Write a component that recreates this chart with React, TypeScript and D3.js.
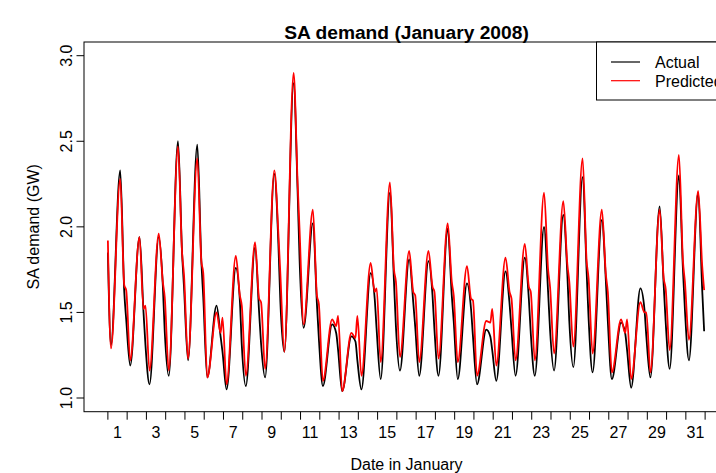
import React, { useRef, useEffect } from "react";
import * as d3 from "d3";

// Day numbers shown on the x axis (labels sit between the day ticks)
const days = d3.range(1, 32);
const dayTicks = d3.range(1, 33);
const yTicks = [1.0, 1.5, 2.0, 2.5, 3.0];

// Readings per day (GW): overnight trough, afternoon peak, evening shoulder, late-night jag
const actualStart = 1.85;
const actualLow = [1.31, 1.19, 1.08, 1.13, 1.22, 1.12, 1.05, 1.07, 1.12, 1.27, 1.41, 1.07, 1.04, 1.05, 1.11, 1.16, 1.13, 1.13, 1.11, 1.08, 1.1, 1.13, 1.13, 1.16, 1.18, 1.15, 1.11, 1.06, 1.12, 1.17, 1.22];
const actualPeak = [2.33, 1.94, 1.94, 2.5, 2.48, 1.54, 1.76, 1.88, 2.31, 2.84, 2.02, 1.43, 1.36, 1.73, 2.2, 1.81, 1.8, 1.99, 1.67, 1.4, 1.74, 1.82, 2.0, 2.07, 2.29, 2.04, 1.44, 1.64, 2.12, 2.3, 2.2];
const actualShoulder = [1.62, 1.5, 1.66, 1.85, 1.8, 1.36, 1.57, 1.5, 1.9, 2.2, 1.55, 1.38, 1.33, 1.58, 1.68, 1.56, 1.6, 1.6, 1.52, 1.36, 1.55, 1.58, 1.62, 1.72, 1.74, 1.68, 1.38, 1.52, 1.66, 1.75, 1.63];
const actualJag = [1.46, 1.31, 1.39, 1.65, 1.59, 1.27, 1.31, 1.32, 1.57, 1.81, 1.35, 1.28, 1.22, 1.4, 1.42, 1.42, 1.4, 1.45, 1.36, 1.28, 1.4, 1.38, 1.4, 1.45, 1.47, 1.45, 1.28, 1.36, 1.45, 1.52, 1.39];

const predictedStart = 1.92;
const predictedLow = [1.29, 1.22, 1.16, 1.16, 1.23, 1.12, 1.08, 1.13, 1.17, 1.27, 1.43, 1.1, 1.04, 1.13, 1.21, 1.24, 1.21, 1.23, 1.21, 1.13, 1.19, 1.22, 1.22, 1.26, 1.3, 1.26, 1.15, 1.11, 1.15, 1.28, 1.34];
const predictedPeak = [2.28, 1.94, 1.96, 2.47, 2.4, 1.5, 1.83, 1.91, 2.33, 2.9, 2.1, 1.46, 1.38, 1.79, 2.26, 1.86, 1.86, 2.02, 1.77, 1.45, 1.82, 1.9, 2.2, 2.15, 2.4, 2.1, 1.46, 1.56, 2.1, 2.42, 2.21];
const predictedShoulder = [1.66, 1.52, 1.68, 1.85, 1.8, 1.38, 1.6, 1.58, 1.96, 2.25, 1.6, 1.42, 1.35, 1.62, 1.75, 1.62, 1.65, 1.68, 1.58, 1.44, 1.62, 1.65, 1.75, 1.78, 1.8, 1.72, 1.38, 1.5, 1.7, 1.8, 1.77];
const predictedJag = [1.63, 1.54, 1.59, 1.72, 1.73, 1.47, 1.54, 1.56, 1.73, 1.98, 1.55, 1.48, 1.48, 1.64, 1.68, 1.6, 1.62, 1.6, 1.57, 1.52, 1.58, 1.62, 1.65, 1.68, 1.7, 1.62, 1.46, 1.5, 1.64, 1.68, 1.63];

const legendLabels = ["Actual", "Predicted"];
const legendColors = ["#000000", "#ff0000"];

function buildSeries(start: number, low: number[], peak: number[], shoulder: number[], jag: number[]) {
  const pts: [number, number][] = [[1, start]];
  days.forEach((d, i) => {
    pts.push([d + 0.16, low[i]], [d + 0.64, peak[i]], [d + 0.85, shoulder[i]], [d + 0.95, jag[i]]);
  });
  return pts;
}

const Chart: React.FC = () => {
  const svgRef = useRef<SVGSVGElement>(null);

  useEffect(() => {
    if (!svgRef.current) return;

    const width = 716;
    const height = 473;
    const left = 84;
    const right = 729;
    const top = 42;
    const bottom = 411.7;
    const font = "'Liberation Sans', Arial, sans-serif";

    const x = d3.scaleLinear().domain([-0.24, 33.24]).range([left, right]);
    const y = d3.scaleLinear().domain([0.92, 3.08]).range([bottom, top]);

    const svg = d3.select(svgRef.current).attr("width", width).attr("height", height);
    svg.selectAll("*").remove();

    svg.append("rect").attr("width", width).attr("height", height).attr("fill", "#fff");

    // Series lines
    const line = d3
      .line<[number, number]>()
      .x((d) => x(d[0]))
      .y((d) => y(d[1]))
      .curve(d3.curveMonotoneX);

    const actual = buildSeries(actualStart, actualLow, actualPeak, actualShoulder, actualJag);
    const predicted = buildSeries(predictedStart, predictedLow, predictedPeak, predictedShoulder, predictedJag);

    svg.append("path").attr("d", line(actual)).attr("fill", "none").attr("stroke", "#000").attr("stroke-width", 1.8);
    svg.append("path").attr("d", line(predicted)).attr("fill", "none").attr("stroke", "#ff0000").attr("stroke-width", 1.8);

    // Plot box
    svg
      .append("rect")
      .attr("x", left)
      .attr("y", top)
      .attr("width", right - left)
      .attr("height", bottom - top)
      .attr("fill", "none")
      .attr("stroke", "#000")
      .attr("stroke-width", 1);

    // Y axis
    const yAxis = svg.append("g").attr("font-family", font).attr("font-size", 16);
    yAxis
      .selectAll("line")
      .data(yTicks)
      .join("line")
      .attr("x1", left - 7.5)
      .attr("x2", left)
      .attr("y1", (d) => y(d))
      .attr("y2", (d) => y(d))
      .attr("stroke", "#000");
    yAxis
      .selectAll("text")
      .data(yTicks)
      .join("text")
      .attr("transform", (d) => `translate(71.5,${y(d)}) rotate(-90)`)
      .attr("text-anchor", "middle")
      .text((d) => d.toFixed(1));

    // X axis: ticks on day boundaries, labels centred on each day
    const xAxis = svg.append("g").attr("font-family", font).attr("font-size", 16);
    xAxis
      .selectAll("line")
      .data(dayTicks)
      .join("line")
      .attr("x1", (d) => x(d))
      .attr("x2", (d) => x(d))
      .attr("y1", bottom)
      .attr("y2", bottom + 8)
      .attr("stroke", "#000");
    xAxis
      .selectAll("text")
      .data(days.filter((d) => d % 2 === 1))
      .join("text")
      .attr("x", (d) => x(d + 0.5))
      .attr("y", 437.5)
      .attr("text-anchor", "middle")
      .text((d) => String(d));

    // Titles
    svg
      .append("text")
      .attr("x", (left + right) / 2)
      .attr("y", 38.5)
      .attr("text-anchor", "middle")
      .attr("font-family", font)
      .attr("font-weight", "bold")
      .attr("font-size", 19.2)
      .text("SA demand (January 2008)");
    svg
      .append("text")
      .attr("x", (left + right) / 2)
      .attr("y", 470)
      .attr("text-anchor", "middle")
      .attr("font-family", font)
      .attr("font-size", 16)
      .text("Date in January");
    svg
      .append("text")
      .attr("transform", `translate(38.5,${(top + bottom) / 2}) rotate(-90)`)
      .attr("text-anchor", "middle")
      .attr("font-family", font)
      .attr("font-size", 16)
      .text("SA demand (GW)");

    // Legend (top right, partly cut off like the original)
    const legend = svg.append("g").attr("font-family", font).attr("font-size", 16);
    legend
      .append("rect")
      .attr("x", 596.5)
      .attr("y", top)
      .attr("width", right - 596.5)
      .attr("height", 58)
      .attr("fill", "#fff")
      .attr("stroke", "#000");
    legendLabels.forEach((label, i) => {
      const ly = 62 + i * 18.7;
      legend
        .append("line")
        .attr("x1", 611)
        .attr("x2", 640)
        .attr("y1", ly)
        .attr("y2", ly)
        .attr("stroke", legendColors[i])
        .attr("stroke-width", 1.2);
      legend
        .append("text")
        .attr("x", 655)
        .attr("y", ly + 6)
        .text(label);
    });
  }, []);

  return <svg ref={svgRef} style={{ position: "absolute", left: 0, top: 0 }}></svg>;
};

export default function App() {
  return <Chart />;
}
